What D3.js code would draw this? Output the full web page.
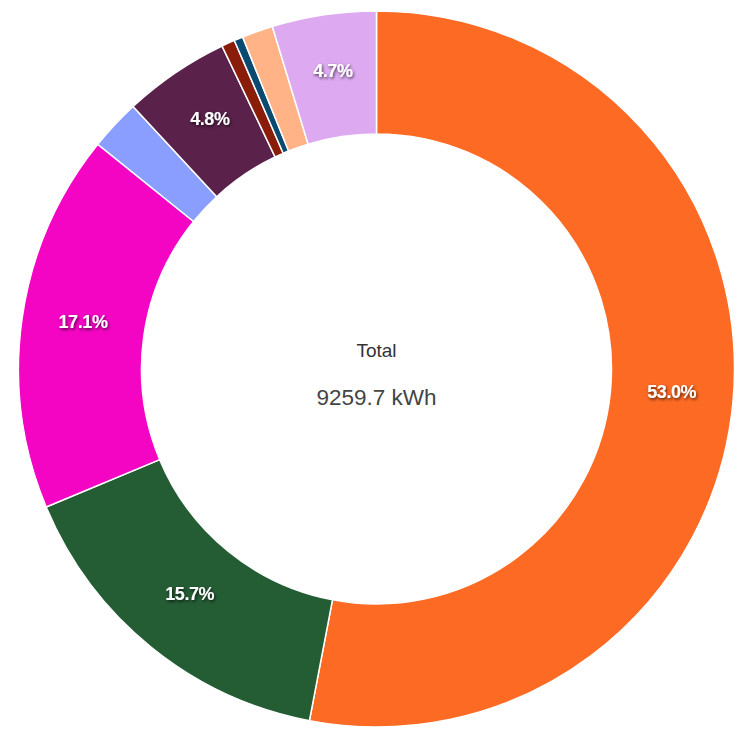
<!DOCTYPE html>
<html lang="en">
<head>
    <meta charset="UTF-8">
    <title>Energy breakdown</title>
    <style>
        body {
            margin: 0;
            background: #ffffff;
            font-family: 'Liberation Sans', Arial, sans-serif;
        }
        #chart svg {
            display: block;
        }
    </style>
</head>
<body>
    <div id="chart"></div>

    <script src="https://cdnjs.cloudflare.com/ajax/libs/d3/7.8.5/d3.min.js"></script>
    <script>
        // values (kWh), clockwise from 12 o'clock
        const categories = ["A", "B", "C", "D", "E", "F", "G", "H", "I"];
        const values = [4907.6, 1453.8, 1583.4, 213.0, 444.5, 55.6, 37.0, 129.6, 435.2];
        const colors = ["#fd6a24", "#245c34", "#f405c4", "#8a9eff", "#5a214a",
                        "#8a1c0a", "#0b4a70", "#ffb387", "#ddaaf2"];
        const totalLabel = "Total";
        const unit = "kWh";

        const W = 744, H = 735;
        const cx = 376.5, cy = 369;
        const outerR = 358, innerR = 235;

        const total = d3.sum(values);
        const data = categories.map((c, i) => ({ name: c, value: values[i], color: colors[i] }));

        const svg = d3.select("#chart")
            .append("svg")
            .attr("width", W)
            .attr("height", H);

        // soft dark shadow behind the percent labels
        const defs = svg.append("defs");
        const f = defs.append("filter").attr("id", "shadow")
            .attr("x", "-20%").attr("y", "-40%").attr("width", "140%").attr("height", "180%");
        f.append("feDropShadow")
            .attr("dx", 1).attr("dy", 1.5)
            .attr("stdDeviation", 1.5)
            .attr("flood-color", "#000")
            .attr("flood-opacity", 0.7);

        const g = svg.append("g").attr("transform", `translate(${cx},${cy})`);

        const pie = d3.pie().value(d => d.value).sort(null);
        const arc = d3.arc().innerRadius(innerR).outerRadius(outerR);
        const arcs = pie(data);

        g.selectAll("path")
            .data(arcs)
            .enter()
            .append("path")
            .attr("d", arc)
            .attr("fill", d => d.data.color)
            .attr("stroke", "#ffffff")
            .attr("stroke-width", 1.5);

        // percent labels only on the bigger slices
        g.selectAll("text.pct")
            .data(arcs.filter(d => d.data.value / total > 0.04))
            .enter()
            .append("text")
            .attr("class", "pct")
            .attr("transform", d => {
                const c = arc.centroid(d);
                return `translate(${c[0]},${c[1] - 5})`;
            })
            .attr("text-anchor", "middle")
            .attr("dominant-baseline", "central")
            .attr("fill", "#ffffff")
            .attr("filter", "url(#shadow)")
            .style("font-size", "18px")
            .style("font-weight", "bold")
            .style("letter-spacing", "-0.4px")
            .text(d => (d.data.value / total * 100).toFixed(1) + "%");

        // centre text
        g.append("text")
            .attr("x", 0)
            .attr("y", -12)
            .attr("text-anchor", "middle")
            .attr("fill", "#333333")
            .style("font-size", "19px")
            .text(totalLabel);

        g.append("text")
            .attr("x", 0)
            .attr("y", 36)
            .attr("text-anchor", "middle")
            .attr("fill", "#444444")
            .style("font-size", "22.5px")
            .text(`${total.toFixed(1)} ${unit}`);
    </script>
</body>
</html>
